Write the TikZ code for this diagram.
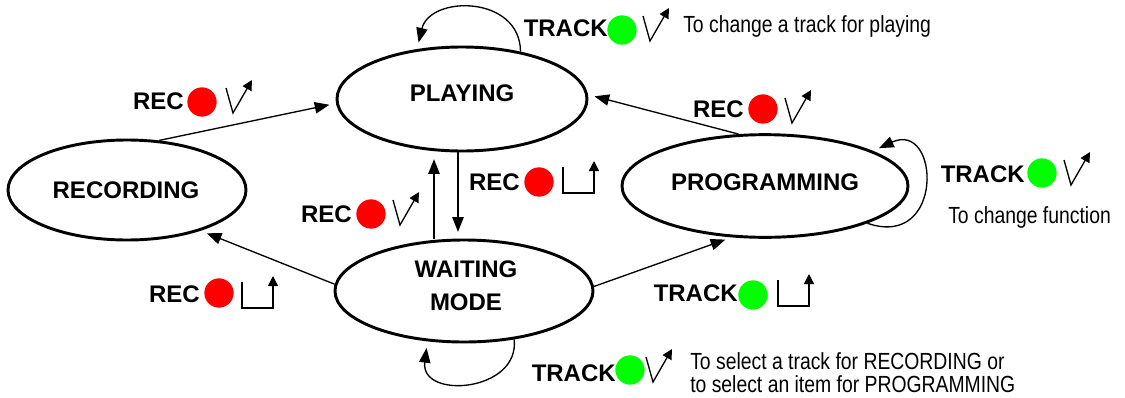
\documentclass[tikz,border=0pt]{standalone}
\usepackage{fontspec}
\setmainfont{Liberation Sans}
\newfontfamily\narrowfont[FakeStretch=0.83]{Liberation Sans}
\usetikzlibrary{arrows.meta,shapes.geometric}
\definecolor{brightgreen}{RGB}{0,255,0}
\definecolor{brightred}{RGB}{255,0,0}
\tikzset{
  state/.style={draw, ellipse, line width=2.2pt, inner sep=0pt},
  statetext/.style={inner sep=0pt, align=center,
    font=\bfseries\fontsize{18}{24.5}\selectfont},
  edge/.style={line width=1pt, -{Triangle[length=11pt,width=8.5pt]}, shorten >=5pt},
  lbl/.style={inner sep=0pt, anchor=east, font=\bfseries\fontsize{18}{22}\selectfont},
  note/.style={inner sep=0pt, anchor=base west, font=\narrowfont\fontsize{17.5}{18}\selectfont},
  dotr/.style={circle, fill=brightred, minimum size=22pt, inner sep=0pt},
  dotg/.style={circle, fill=brightgreen, minimum size=22pt, inner sep=0pt},
  sym/.style={line width=1pt, -{Triangle[length=7.5pt,width=7.5pt]}},
  vsym/.pic={\draw[sym] (0,0) -- (7,25) -- (26,-8);},
  lsym/.pic={\draw[sym] (0,0) -- (0,26) -- (31,26) -- (31,-6);},
}
\begin{document}
\begin{tikzpicture}[x=0.75pt,y=-0.75pt]
\useasboundingbox (0,0) rectangle (1125,397);
% states
\node[state, minimum width=187.5pt, minimum height=78pt] (play) at (462,99) {};
\node[statetext] (playt) at (462,93) {PLAYING};
\node[state, minimum width=178.5pt, minimum height=75pt] (rec) at (127,190) {};
\node[statetext] (rect) at (126,190) {RECORDING};
\node[state, minimum width=193.5pt, minimum height=76.5pt] (wait) at (464,291) {};
\node[statetext] (waitt) at (466,286) {WAITING\\MODE};
\node[state, minimum width=214.5pt, minimum height=77pt] (prog) at (765,186) {};
\node[statetext] (progt) at (765,182) {PROGRAMMING};
% connectors
\coordinate (ux) at (434,0);
\coordinate (dx) at (458,0);
\draw[edge] (rec.57) -- (play.182);
\draw[edge] (wait.north -| ux) -- (play.south -| ux);
\draw[edge] (play.south -| dx) -- (wait.north -| dx);
\draw[edge] (prog.117) -- (play.2);
\draw[edge] (wait.177) -- (rec.331);
\draw[edge] (wait.2) -- (prog.237);
% self loops
\draw[edge] (play.39) .. controls (520,-5) and (430,-5) .. (play.132);
\draw[edge] (prog.340) .. controls (945,250) and (940,120) .. (prog.18);
\draw[edge] (wait.316) .. controls (520,392) and (420,400) .. (wait.234);
% labels
\node[lbl] (l1) at (184,101) {REC};
\node[dotr] (c1) at (202,102) {};
\pic at (226,88) {vsym};
\node[lbl] (l2) at (608,28) {TRACK};
\node[dotg] (c2) at (622,30) {};
\pic at (643,16) {vsym};
\node[note] (n2) at (683,32) {To change a track for playing};
\node[lbl] (l3) at (744,109) {REC};
\node[dotr] (c3) at (763,109) {};
\pic at (785,98) {vsym};
\node[lbl] (l4) at (520,182) {REC};
\node[dotr] (c4) at (539,182) {};
\pic at (563,167) {lsym};
\node[lbl] (l5) at (352,214) {REC};
\node[dotr] (c5) at (371,214) {};
\pic at (393,200) {vsym};
\node[lbl] (l6) at (1025,174) {TRACK};
\node[dotg] (c6) at (1042,173) {};
\pic at (1064,160) {vsym};
\node[note] (n6) at (948,223) {To change function};
\node[lbl] (l7) at (200,294) {REC};
\node[dotr] (c7) at (219,293) {};
\pic at (242,282) {lsym};
\node[lbl] (l8) at (738,293) {TRACK};
\node[dotg] (c8) at (753,295) {};
\pic at (778,280) {lsym};
\node[lbl] (l9) at (616,373) {TRACK};
\node[dotg] (c9) at (630,370) {};
\pic at (646,357) {vsym};
\node[note] (n9a) at (690,369) {To select a track for RECORDING or};
\node[note] (n9b) at (690,392) {to select an item for PROGRAMMING};
\end{tikzpicture}
\end{document}
